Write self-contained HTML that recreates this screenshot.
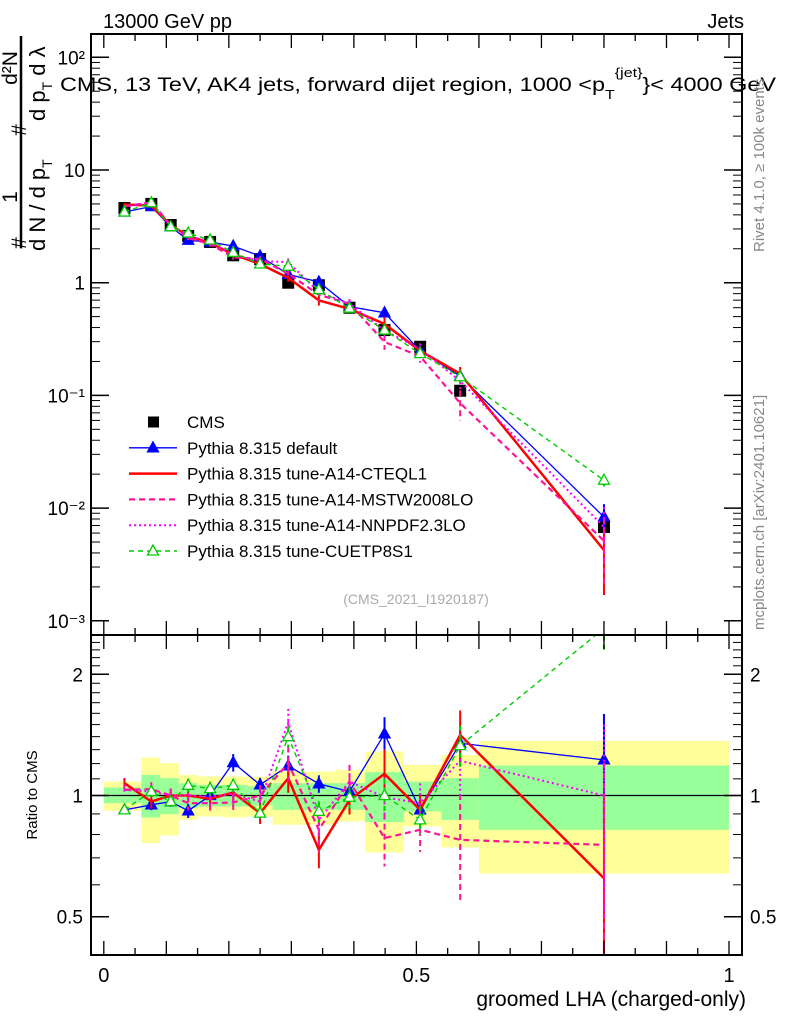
<!DOCTYPE html>
<html><head><meta charset="utf-8"><style>
html,body{margin:0;padding:0;background:#fff;}
svg{display:block;font-family:"Liberation Sans",sans-serif;}
</style></head><body>
<svg id="chart" width="786" height="1024" viewBox="0 0 786 1024" xmlns="http://www.w3.org/2000/svg">
<defs>
<clipPath id="clipMain"><rect x="91" y="34" width="651" height="601"/></clipPath>
<clipPath id="clipRatio"><rect x="91" y="635" width="651" height="320"/></clipPath>
</defs>
<g id="bands" clip-path="url(#clipRatio)"></g>
<g id="marks"></g>
<g id="frame"></g>
<text x="103" y="28" font-size="20">13000 GeV pp</text>
<text x="744" y="28" font-size="20" text-anchor="end">Jets</text>
<text x="60" y="91" font-size="19" textLength="716" lengthAdjust="spacingAndGlyphs">CMS, 13 TeV, AK4 jets, forward dijet region, 1000 &lt;p<tspan font-size="13" dy="8">T</tspan><tspan font-size="13" dy="-22">{jet}</tspan><tspan dy="14">}&lt; 4000 GeV</tspan></text>
<g>
<line x1="21" y1="36" x2="21" y2="248" stroke="#000" stroke-width="2.5"/>
<text transform="translate(26,243) rotate(-90)" font-size="21" text-anchor="middle">#</text>
<text transform="translate(17,197) rotate(-90)" font-size="21" text-anchor="middle">1</text>
<text transform="translate(45,251) rotate(-90)" font-size="22">d N / d p<tspan font-size="14" dy="7">T</tspan></text>
<text transform="translate(26,130) rotate(-90)" font-size="21" text-anchor="middle">#</text>
<text transform="translate(17,68) rotate(-90)" font-size="21" text-anchor="middle">d²N</text>
<text transform="translate(45,121) rotate(-90)" font-size="22">d p<tspan font-size="14" dy="7">T</tspan><tspan dy="-7"> d λ</tspan></text>
</g>
<text transform="translate(764,252) rotate(-90)" font-size="15" fill="#888">Rivet 4.1.0, ≥ 100k events</text>
<text transform="translate(764,630) rotate(-90)" font-size="15" fill="#888">mcplots.cern.ch [arXiv:2401.10621]</text>
<text x="416" y="604" font-size="14" fill="#aaa" text-anchor="middle">(CMS_2021_I1920187)</text>
<text transform="translate(37,795) rotate(-90)" font-size="15" text-anchor="middle">Ratio to CMS</text>
<text x="746" y="1006" font-size="21" text-anchor="end">groomed LHA (charged-only)</text>
<g id="legend"></g>
</svg>
<script>
const binEdges=[0,0.06,0.09,0.12,0.15,0.19,0.23,0.27,0.32,0.37,0.418,0.48,0.54,0.6,1.0];
const xCenters=[0.033,0.076,0.107,0.135,0.17,0.207,0.25,0.295,0.344,0.393,0.449,0.506,0.57,0.8];
const cmsValues=[4.6,5.0,3.25,2.6,2.3,1.75,1.62,1.0,0.95,0.6,0.38,0.27,0.11,0.0068];
const yellowHi=[1.083,1.243,1.203,1.125,1.115,1.115,1.115,1.147,1.147,1.158,1.286,1.191,1.261,1.366];
const yellowLo=[0.916,0.762,0.796,0.87,0.887,0.882,0.887,0.846,0.846,0.862,0.722,0.838,0.743,0.64];
const greenHi=[1.047,1.125,1.104,1.073,1.063,1.063,1.053,1.073,1.073,1.073,1.143,1.083,1.104,1.187];
const greenLo=[0.957,0.882,0.899,0.93,0.939,0.939,0.944,0.921,0.921,0.921,0.859,0.913,0.87,0.822];
const ratioDefault=[0.921,0.948,0.966,0.916,1.0,1.207,1.063,1.185,1.069,1.023,1.423,0.921,1.348,1.226];
const ratioCTEQL1=[1.073,0.966,1.0,1.0,0.981,1.017,0.904,1.104,0.733,0.975,1.132,0.921,1.414,0.623];
const ratioMSTW=[1.033,1.037,1.0,0.957,0.957,0.961,1.0,1.203,0.822,1.083,0.784,0.822,0.776,0.754];
const ratioNNPDF=[1.033,1.023,1.0,1.0,0.994,1.01,0.966,1.52,0.87,1.083,0.99,0.957,1.22,1.0];
const ratioCUETP=[0.921,1.023,0.966,1.06,1.04,1.06,0.904,1.4,0.913,0.99,1.0,0.87,1.33,2.6];
const errDefault=[0.02,0.03,0.03,0.04,0.03,0.05,0.04,0.06,0.05,0.05,0.1,0.07,0.1,0.3];
const errCTEQL1=[0.03,0.04,0.04,0.04,0.05,0.05,0.06,0.08,0.1,0.08,0.15,0.1,0.15,0.6];
const errMSTW=[0.03,0.04,0.04,0.04,0.05,0.05,0.06,0.1,0.12,0.1,0.15,0.12,0.3,0.6];
const errNNPDF=[0.03,0.04,0.04,0.04,0.05,0.05,0.06,0.08,0.1,0.08,0.12,0.12,0.2,0.5];
const errCUETP=[0.02,0.03,0.03,0.04,0.04,0.04,0.05,0.06,0.06,0.06,0.1,0.08,0.12,0.12];
const mainTicks=[2,1,0,-1,-2,-3];
const mainTickLabels=["10²","10","1","10⁻¹","10⁻²","10⁻³"];
const ratioTicks=[2,1,0.5];
const ratioTickLabels=["2","1","0.5"];
const xTicks=[0,0.5,1];
const xTickLabels=["0","0.5","1"];

const L=91,R=742,T=34,MB=635,RB=955;
const X=v=>103.8+(729-103.8)*v;
const YM=v=>282.7-112.7*Math.log10(v);
const YR=v=>795.5-121.2*Math.log2(v);
const NS="http://www.w3.org/2000/svg";
function mk(tag,attrs,parent){const e=document.createElementNS(NS,tag);for(const k in attrs)e.setAttribute(k,attrs[k]);parent.appendChild(e);return e;}
const bands=document.getElementById('bands'),marks=document.getElementById('marks'),frame=document.getElementById('frame'),legend=document.getElementById('legend');

for(let i=0;i<xCenters.length;i++){
 let r=mk('rect',{x:X(binEdges[i]),y:YR(yellowHi[i]),width:X(binEdges[i+1])-X(binEdges[i]),height:YR(yellowLo[i])-YR(yellowHi[i]),fill:'#ffff99'},bands);
 
 
 let g=mk('rect',{x:X(binEdges[i]),y:YR(greenHi[i]),width:X(binEdges[i+1])-X(binEdges[i]),height:YR(greenLo[i])-YR(greenHi[i]),fill:'#99ff99'},bands);
 
 
}
let ref=mk('line',{x1:L,x2:R,y1:YR(1),y2:YR(1),stroke:'#000','stroke-width':1.2},bands);



const series=[
 {name:'default',ratio:ratioDefault,err:errDefault,color:'#0000ff',w:1.3,dash:'',marker:'tri',label:'Pythia 8.315 default'},
 {name:'a14-cteql1',ratio:ratioCTEQL1,err:errCTEQL1,color:'#ff0000',w:2.5,dash:'',marker:'none',label:'Pythia 8.315 tune-A14-CTEQL1'},
 {name:'a14-mstw2008lo',ratio:ratioMSTW,err:errMSTW,color:'#ff1493',w:2.2,dash:'6,4',marker:'none',label:'Pythia 8.315 tune-A14-MSTW2008LO'},
 {name:'a14-nnpdf23lo',ratio:ratioNNPDF,err:errNNPDF,color:'#ff00ff',w:2,dash:'2,3',marker:'none',label:'Pythia 8.315 tune-A14-NNPDF2.3LO'},
 {name:'cuetp8s1',ratio:ratioCUETP,err:errCUETP,color:'#00cc00',w:1.4,dash:'5,4',marker:'otri',label:'Pythia 8.315 tune-CUETP8S1'}
];
function tri(x,y,c,open,parent,nm){
 const t=mk('polygon',{points:`${x},${y-6} ${x-5.5},${y+4} ${x+5.5},${y+4}`,fill:open?'#fff':c,stroke:c,'stroke-width':1.3},parent);
 
 
}
function drawPanel(clip,Yf,valFn,isMain){
 const g=mk('g',{'clip-path':`url(#${clip})`},marks);
 if(isMain){
  for(let i=0;i<xCenters.length;i++){
   const s=mk('rect',{x:X(xCenters[i])-6,y:YM(cmsValues[i])-6,width:12,height:12,fill:'#000'},g);
   
   
  }
 }
 series.forEach(s=>{
  const vals=s.ratio.map((r,i)=>valFn(r,i));
  const pts=vals.map((v,i)=>`${X(xCenters[i])},${Yf(v)}`).join(' ');
  const pl=mk('polyline',{points:pts,fill:'none',stroke:s.color,'stroke-width':s.w,'stroke-dasharray':s.dash},g);
  
  
  vals.forEach((v,i)=>{
   const x=X(xCenters[i]);
   const e=mk('line',{x1:x,x2:x,y1:Yf(v*(1+s.err[i])),y2:Yf(v*Math.max(0.05,1-s.err[i])),stroke:s.color,'stroke-width':2,'stroke-dasharray':s.dash},g);
   
   
   if(s.marker==='tri')tri(x,Yf(v),s.color,false,g,s.name+'-marker');
   if(s.marker==='otri')tri(x,Yf(v),s.color,true,g,s.name+'-marker');
  });
 });
}
drawPanel('clipMain',YM,(r,i)=>r*cmsValues[i],true);
drawPanel('clipRatio',YR,(r,i)=>r,false);

let f1=mk('rect',{x:L,y:T,width:R-L,height:MB-T,fill:'none',stroke:'#000','stroke-width':2},frame);


let f2=mk('rect',{x:L,y:MB,width:R-L,height:RB-MB,fill:'none',stroke:'#000','stroke-width':2},frame);


mainTicks.forEach((p,k)=>{
 const y=YM(Math.pow(10,p));
 mk('line',{x1:L,x2:L+18,y1:y,y2:y,stroke:'#000','stroke-width':1.5},frame);
 mk('line',{x1:R-18,x2:R,y1:y,y2:y,stroke:'#000','stroke-width':1.5},frame);
 for(let m=2;m<=9;m++){const ym=YM(m*Math.pow(10,p));if(ym>T&&ym<MB){mk('line',{x1:L,x2:L+9,y1:ym,y2:ym,stroke:'#000'},frame);mk('line',{x1:R-9,x2:R,y1:ym,y2:ym,stroke:'#000'},frame);}}
 const t=mk('text',{x:L-6,y:y+7,'font-size':19,'text-anchor':'end'},frame);
 t.textContent=mainTickLabels[k];
 
 
});
for(let v=0.4;v<=2.5;v+=0.1){const y=YR(v);if(y>MB&&y<RB){mk('line',{x1:L,x2:L+9,y1:y,y2:y,stroke:'#000'},frame);mk('line',{x1:R-9,x2:R,y1:y,y2:y,stroke:'#000'},frame);}}
ratioTicks.forEach((v,k)=>{
 const y=YR(v);
 mk('line',{x1:L,x2:L+18,y1:y,y2:y,stroke:'#000','stroke-width':1.5},frame);
 mk('line',{x1:R-18,x2:R,y1:y,y2:y,stroke:'#000','stroke-width':1.5},frame);
 const t=mk('text',{x:L-8,y:y+7,'font-size':19,'text-anchor':'end'},frame);
 t.textContent=ratioTickLabels[k];
 
 
 const t2=mk('text',{x:R+8,y:y+7,'font-size':19},frame);
 t2.textContent=ratioTickLabels[k];
 
 
});
for(let v=0;v<=1.0001;v+=0.05){const x=X(v);const big=Math.abs(v*10-Math.round(v*10))<1e-6;const len=big?14:7;
 [[T,T+len],[MB-len,MB],[MB,MB+len],[RB-len,RB]].forEach(([a,b])=>mk('line',{x1:x,x2:x,y1:a,y2:b,stroke:'#000','stroke-width':1.3},frame));}
xTicks.forEach((v,k)=>{
 const t=mk('text',{x:X(v),y:982,'font-size':20,'text-anchor':'middle'},frame);
 t.textContent=xTickLabels[k];
 
 
});

const legRows=[{label:'CMS',type:'cms'}].concat(series.map(s=>({label:s.label,type:'s',s})));
legRows.forEach((r,i)=>{
 const y=422+25.8*i;
 const g=mk('g',{},legend);
 
 
 if(r.type==='cms'){mk('rect',{x:148,y:y-5.5,width:11,height:11,fill:'#000'},g);}
 else{
  mk('line',{x1:129,x2:177,y1:y,y2:y,stroke:r.s.color,'stroke-width':r.s.w,'stroke-dasharray':r.s.dash},g);
  if(r.s.marker==='tri')tri(153,y,r.s.color,false,g,'legend-marker');
  if(r.s.marker==='otri')tri(153,y,r.s.color,true,g,'legend-marker');
 }
 const t=mk('text',{x:187,y:y+6,'font-size':17},g);
 t.textContent=r.label;
});
</script>
</body></html>
